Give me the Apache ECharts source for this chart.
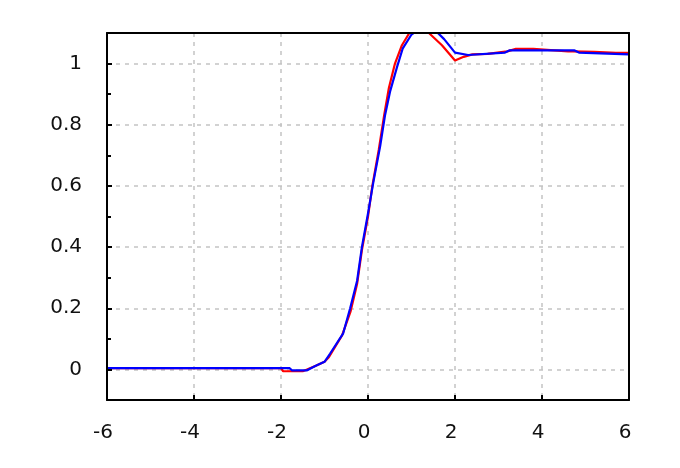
<!DOCTYPE html>
<html><head><meta charset="utf-8">
<script src="https://cdn.jsdelivr.net/npm/echarts@6/dist/echarts.min.js"></script>
<style>html,body{margin:0;padding:0;background:#fff}#c{width:680px;height:468px}</style>
</head><body><div id="c"></div>
<script>
const blueX = [-6, -1.8, -1.75, -1.4, -1.2, -1.0, -0.87, -0.57, -0.41, -0.25, -0.14, 0, 0.12, 0.28, 0.39, 0.51, 0.67, 0.8, 1.0, 1.25, 1.5, 1.75, 2.0, 2.3, 3.15, 3.25, 4.75, 4.85, 6];
const blueY = [0.004, 0.004, -0.003, -0.003, 0.012, 0.025, 0.052, 0.118, 0.2, 0.29, 0.4, 0.51, 0.61, 0.73, 0.83, 0.91, 0.99, 1.05, 1.095, 1.12, 1.115, 1.08, 1.036, 1.028, 1.036, 1.043, 1.043, 1.036, 1.03];
const redX = [-6, -2.0, -1.95, -1.5, -1.4, -1.2, -1.0, -0.9, -0.6, -0.4, -0.25, -0.14, 0, 0.1, 0.25, 0.37, 0.48, 0.62, 0.78, 0.95, 1.2, 1.4, 1.7, 2.0, 2.2, 2.4, 2.75, 3.2, 3.4, 3.8, 4.6, 4.7, 5.2, 5.7, 6];
const redY = [0.004, 0.004, -0.006, -0.006, 0, 0.012, 0.025, 0.04, 0.11, 0.19, 0.28, 0.39, 0.5, 0.6, 0.72, 0.83, 0.92, 1.0, 1.06, 1.1, 1.12, 1.1, 1.06, 1.01, 1.022, 1.03, 1.032, 1.04, 1.048, 1.048, 1.04, 1.04, 1.038, 1.035, 1.035];
const yLabels = [0, 0.2, 0.4, 0.6, 0.8, 1];
const yMinorTicks = [0.1, 0.3, 0.5, 0.7, 0.9];
const xRange = [-6, 6];
const yRange = [-0.1, 1.1];

const chart = echarts.init(document.getElementById('c'), null, {renderer: 'canvas'});
const font = {fontFamily: 'DejaVu Sans', fontSize: 20, color: '#111'};
const dash = {color: '#c4c4c4', width: 1.5, type: [4, 5]};
const frame = {show: true, onZero: false, lineStyle: {color: '#000', width: 2}};
const none = {show: false};
const zip = (xs, ys) => xs.map((x, i) => [x, ys[i]]);
const xBase = {type: 'value', min: xRange[0], max: xRange[1], interval: 2};
const yBase = {type: 'value', min: yRange[0], max: yRange[1]};
chart.setOption({
  animation: false,
  grid: {left: 107, right: 51, top: 33, bottom: 68},
  xAxis: [
    Object.assign({}, xBase, {position: 'bottom', axisLine: {show: false, onZero: false}, axisTick: none, axisLabel: none,
      splitLine: {show: true, lineStyle: dash}, z: 1}),
    Object.assign({}, xBase, {position: 'bottom', axisLine: frame,
      axisTick: {show: true, inside: true, length: 5, lineStyle: {color: '#000', width: 2}},
      axisLabel: Object.assign({margin: 23, padding: [0, 8, 0, 0]}, font), splitLine: none, z: 10}),
    Object.assign({}, xBase, {position: 'top', axisLine: frame, axisTick: none, axisLabel: none, splitLine: none, z: 10})
  ],
  yAxis: [
    Object.assign({}, yBase, {position: 'left', axisLine: {show: false, onZero: false},
      axisTick: {show: false, customValues: yLabels}, axisLabel: {show: false, customValues: yLabels},
      splitLine: {show: true, lineStyle: dash}, z: 1}),
    Object.assign({}, yBase, {position: 'left', axisLine: frame,
      axisTick: {show: true, inside: true, length: 5, customValues: yLabels, lineStyle: {color: '#000', width: 2}},
      axisLabel: Object.assign({margin: 25, customValues: yLabels}, font), splitLine: none, z: 10}),
    Object.assign({}, yBase, {position: 'left', axisLine: {show: false, onZero: false},
      axisTick: {show: true, inside: true, length: 4, customValues: yMinorTicks, lineStyle: {color: '#000', width: 2}},
      axisLabel: none, splitLine: none, z: 10}),
    Object.assign({}, yBase, {position: 'right', axisLine: frame, axisTick: none, axisLabel: none, splitLine: none, z: 10})
  ],
  series: [{
    type: 'line', data: zip(redX, redY), showSymbol: false, symbol: 'none', clip: true,
    lineStyle: {color: '#ff0000', width: 2.2}, z: 2
  }, {
    type: 'line', data: zip(blueX, blueY), showSymbol: false, symbol: 'none', clip: true,
    lineStyle: {color: '#0000ff', width: 2.2}, z: 3
  }]
});
</script></body></html>
